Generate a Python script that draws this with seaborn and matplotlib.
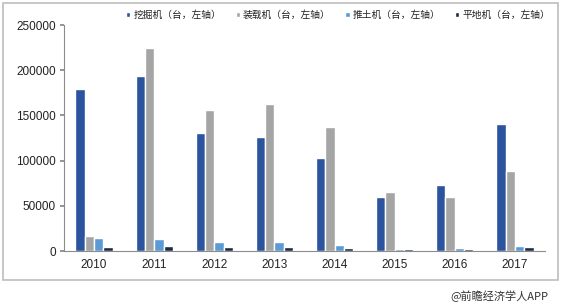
import matplotlib
matplotlib.use("Agg")
import matplotlib.pyplot as plt
import seaborn as sns
import pandas as pd
import numpy as np
from matplotlib.patches import Rectangle

years = ["2010", "2011", "2012", "2013", "2014", "2015", "2016", "2017"]
excavator = [179000, 194000, 131000, 126000, 103000, 60000, 73000, 141000]
loader = [16500, 225000, 156000, 163000, 137000, 65000, 60000, 89000]
dozer = [14500, 13000, 10500, 9500, 7000, 2500, 3000, 5000]
grader = [4500, 5000, 4000, 4000, 3000, 2000, 2500, 4000]
series_names = ["挖掘机（台，左轴）", "装载机（台，左轴）", "推土机（台，左轴）", "平地机（台，左轴）"]
colors = ["#2B539E", "#A5A5A5", "#5A9BD5", "#1B2A47"]
yticks = [0, 50000, 100000, 150000, 200000, 250000]

sns.set_theme(style="white")
plt.rcParams['font.family'] = ['Noto Sans CJK SC', 'DejaVu Sans']

rows = []
for name, vals in zip(series_names, [excavator, loader, dozer, grader]):
    for y, v in zip(years, vals):
        rows.append({"year": y, "series": name, "value": v})
df = pd.DataFrame(rows)

fig = plt.figure(figsize=(5.63, 3.07), dpi=100)
ax = fig.add_axes([64/563, 1-251/307, 481/563, 226/307])

sns.barplot(data=df, x="year", y="value", hue="series", palette=colors,
            width=0.62, gap=0, saturation=1, ax=ax, legend=True)

ax.set_ylim(0, 250000)
ax.set_yticks(yticks)
ax.set_yticklabels([str(t) for t in yticks], fontsize=8.5, family=['Liberation Sans'])
ax.set_xlim(-0.5, len(years) - 0.5)
ax.set_xticks(range(len(years)))
ax.set_xticklabels(years, fontsize=8.5, family=['Liberation Sans'])
ax.set_xticks(np.arange(-0.5, len(years), 1), minor=True)
ax.tick_params(axis='x', which='major', length=0, pad=6, colors='#222222')
ax.tick_params(axis='x', which='minor', length=3, color='#888888', direction='out')
ax.tick_params(axis='y', length=3, color='#888888', direction='out', left=True, pad=3, colors='#222222')
ax.tick_params(axis='y', which='major', color='#888888')
ax.set_xlabel("")
ax.set_ylabel("")
for s in ["top", "right"]:
    ax.spines[s].set_visible(False)
for s in ["left", "bottom"]:
    ax.spines[s].set_color("#8C8C8C")
    ax.spines[s].set_linewidth(0.8)

handles, labels = ax.get_legend_handles_labels()
ax.legend(handles, labels, loc="upper left", bbox_to_anchor=(58/481, 1.085), ncol=4,
          frameon=False, fontsize=7, handlelength=0.45, handleheight=0.45,
          handletextpad=0.3, columnspacing=1.5, borderaxespad=0, labelcolor="#222222")

fig.patches.append(Rectangle((3/563, 1-280/307), 555/563, 277/307, transform=fig.transFigure,
                             fill=False, edgecolor="#BDBDBD", linewidth=1.2))

fig.text(548/563, 1-296/307, "@前瞻经济学人APP", ha="right", va="center", fontsize=8, color="#333333")

fig.savefig("out.png", dpi=100)
